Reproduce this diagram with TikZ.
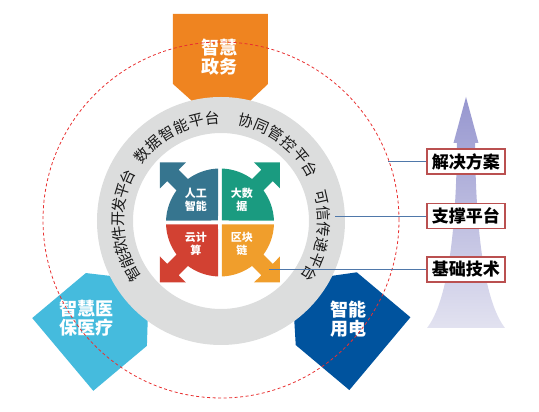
\documentclass[tikz,border=0pt]{standalone}
\usepackage{fontspec}
\setmainfont{Noto Sans CJK SC}
\usetikzlibrary{positioning}
\definecolor{zwOrange}{RGB}{239,132,32}
\definecolor{ylCyan}{RGB}{69,187,221}
\definecolor{ydBlue}{RGB}{0,83,158}
\definecolor{ringGray}{RGB}{220,221,221}
\definecolor{aiBlue}{RGB}{54,117,143}
\definecolor{bdGreen}{RGB}{26,155,128}
\definecolor{ccRed}{RGB}{210,65,50}
\definecolor{bcOrange}{RGB}{240,158,44}
\definecolor{boxRed}{RGB}{186,80,80}
\definecolor{lineBlue}{RGB}{79,120,170}
\definecolor{dashRed}{RGB}{232,48,48}
\definecolor{arrowTop}{RGB}{150,150,207}
\definecolor{arrowBottom}{RGB}{226,226,240}

\begin{document}
\begin{tikzpicture}[x=1pt,y=1pt,
	tag/.style={text=white,font=\fontsize{18}{19}\selectfont\bfseries,align=center},
	quad/.style={text=white,font=\fontsize{11}{13}\selectfont\bfseries,align=center},
	ringtxt/.style={text=black!90,font=\fontsize{15}{15}\selectfont,inner sep=0pt},
	layer/.style={draw=boxRed,line width=1.5pt,fill=white,minimum width=78pt,minimum height=25pt,inner sep=0pt,font=\fontsize{17}{19}\selectfont\bfseries},
	link/.style={draw=lineBlue,line width=0.8pt}]
		\useasboundingbox (-221,-191) rectangle (318,221);
		\def\hexa{(-48,207) -- (47,207) -- (47,137) -- (29,120) -- (-29,120) -- (-48,137) -- cycle}
		\def\quarter{(2,2) -- (87.9:54) arc[start angle=87.9,end angle=53.52,radius=54]
			-- (41.35,52.66) -- (34,60) -- (60,60) -- (60,34) -- (52.66,41.35)
			-- (36.48:54) arc[start angle=36.48,end angle=2.1,radius=54] -- cycle}
		\shade[top color=arrowTop,bottom color=arrowBottom]
		(245,124) -- (257.5,78) -- (254,78) .. controls (255,-30) and (267,-85) .. (284,-107)
		-- (206,-107) .. controls (223,-85) and (235,-30) .. (236,78) -- (232.5,78) -- cycle;
		\fill[zwOrange] \hexa;
		\fill[ylCyan,rotate=130] \hexa;
		\fill[ydBlue,rotate=-130] \hexa;
		\fill[ringGray,even odd rule] (0,0) circle (124) (0,0) circle (88);
		\fill[bdGreen,shift={(-1,-1.5)}] \quarter;
		\fill[aiBlue,shift={(-1,-1.5)},rotate=90] \quarter;
		\fill[ccRed,shift={(-1,-1.5)},rotate=180] \quarter;
		\fill[bcOrange,shift={(-1,-1.5)},rotate=270] \quarter;
		\node[quad] (ai) at (-25,21) {人工\\智能};
		\node[quad] (bd) at (21,21) {大数\\据};
		\node[quad] (cc) at (-25,-23) {云计\\算};
		\node[quad] (bc) at (21,-23) {区块\\链};
		\foreach \ch [count=\i] in {数,据,智,能,平,台}
		{\pgfmathsetmacro\a{149-9*\i}
			\node[ringtxt,rotate=\a-90] at (\a:103) {\ch};}
		\foreach \ch [count=\i] in {协,同,管,控,平,台}
		{\pgfmathsetmacro\a{85.2-9.2*\i}
			\node[ringtxt,rotate=\a-90] at (\a:103) {\ch};}
		\foreach \ch [count=\i] in {可,信,传,递,平,台}
		{\pgfmathsetmacro\a{21.8-8.8*\i}
			\node[ringtxt,rotate=\a-90] at (\a:103) {\ch};}
		\foreach \ch [count=\i] in {智,能,软,件,开,发,平,台}
		{\pgfmathsetmacro\a{219-8*\i}
			\node[ringtxt,rotate=\a-90] at (\a:103) {\ch};}
		\node[tag] (zw) at (-1,164) {智慧\\政务};
		\node[tag] (yl) at (-134,-97) {智慧医\\保医疗};
		\node[tag] (yd) at (128,-98) {智能\\用电};
		\draw[dashRed,dash pattern=on 3pt off 2.5pt,line width=0.8pt] (0,1) circle (178);
		\node[layer] (sol) at (245,59.5) {解决方案};
		\node[layer,below=28pt of sol] (plat) {支撑平台};
		\node[layer,below=27pt of plat] (tech) {基础技术};
		\coordinate (solend) at (167,0);
		\coordinate (platend) at (114,0);
		\coordinate (techend) at (48,0);
		\draw[link] (sol.west) -- (solend |- sol.west);
		\draw[link] (plat.west) -- (platend |- plat.west);
		\draw[link] (tech.west) -- (techend |- tech.west);
	\end{tikzpicture}
\end{document}
